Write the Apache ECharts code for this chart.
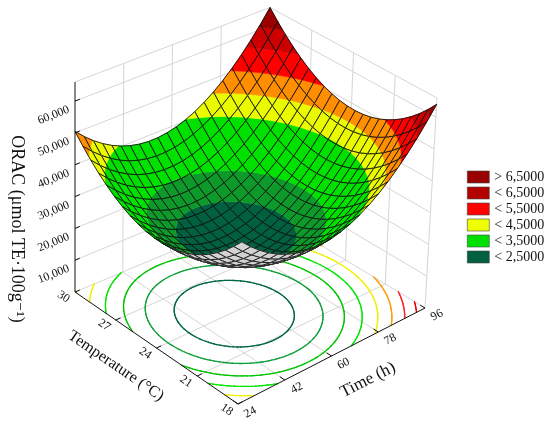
<!DOCTYPE html>
<html>
<head>
<meta charset="utf-8">
<script src="https://cdn.jsdelivr.net/npm/echarts@6/dist/echarts.min.js"></script>
<style>
    html, body { margin: 0; padding: 0; background: #fff; }
    #main { width: 550px; height: 428px; }
</style>
</head>
<body>
<div id="main"></div>
<script>
'use strict';

// ---- data ----
var timeTicks = [24, 42, 60, 78, 96];
var tempTicks = [18, 21, 24, 27, 30];
var oracTicks = [10000, 20000, 30000, 40000, 50000, 60000];
var timeRange = [24, 96];
var tempRange = [18, 30];
var oracRange = [0, 66000];

// fitted 2nd order surface, coded units x=(time-60)/36, y=(temp-24)/6
// order: b0, time, temp, time^2, temp^2, time*temp
var modelCoef = [21500, 7375, 625, 19375, 16750, 375];

// colour bands of the surface (upper limits) and their colours
var bandLimits = [25000, 30000, 35000, 40500, 45500, 50500, 56000, 61000];
var bandColors = ['#00603F', '#0E9A2A', '#00E100', '#00E100', '#EAFA00',
    '#FF8E00', '#FF0000', '#CC0000', '#9A0000'];
var contourLevels = [25000, 30000, 35000, 40000, 45000, 50000, 55000, 60000];
var contourColors = ['#00664A', '#12A03A', '#00C400', '#00E600', '#F0F000',
    '#FF9900', '#FF2020', '#E80000'];

var legendNames = ['> 6,5000', '< 6,5000', '< 5,5000', '< 4,5000', '< 3,5000', '< 2,5000'];
var legendColors = ['#990000', '#B30000', '#FF0000', '#F0FF00', '#00E000', '#006040'];

var SERIF = '"Liberation Serif", "Times New Roman", "DejaVu Serif", serif';

// ---- box on screen: corners A(time24,temp30) B(24,18) C(96,18) D(96,30) ----
var floorPts = [[75, 292], [238, 404], [425, 308], [266, 212]];
var topPts = [[75, 82], [243, 190], [437, 98], [270, 7.5]];
var N = 21;

function bil(q, u, v) {
    return [
        (1 - u) * (1 - v) * q[0][0] + (1 - u) * v * q[1][0] + u * v * q[2][0] + u * (1 - v) * q[3][0],
        (1 - u) * (1 - v) * q[0][1] + (1 - u) * v * q[1][1] + u * v * q[2][1] + u * (1 - v) * q[3][1]
    ];
}

function project(u, v, w) {
    var f = bil(floorPts, u, v);
    var t = bil(topPts, u, v);
    return [f[0] + w * (t[0] - f[0]), f[1] + w * (t[1] - f[1])];
}

function orac(u, v) {
    var x = 2 * u - 1, y = 1 - 2 * v, c = modelCoef;
    return c[0] + c[1] * x + c[2] * y + c[3] * x * x + c[4] * y * y + c[5] * x * y;
}

function uOf(t) { return (t - timeRange[0]) / (timeRange[1] - timeRange[0]); }
function vOf(T) { return (tempRange[1] - T) / (tempRange[1] - tempRange[0]); }
function wOf(z) { return (z - oracRange[0]) / (oracRange[1] - oracRange[0]); }

function fmt(n) {
    return String(n).replace(/\B(?=(\d{3})+(?!\d))/g, ',');
}

// ---- surface cells, far to near ----
var cells = [];
for (var i = 0; i < N; i++) {
    for (var j = 0; j < N; j++) {
        var uc = (i + 0.5) / N, vc = (j + 0.5) / N;
        var near = -0.832 * uc + vc + 0.827 * wOf(orac(uc, vc));
        cells.push([i, j, near]);
    }
}
cells.sort(function (a, b) { return a[2] - b[2]; });

function clip(poly, lim, above) {
    var out = [];
    for (var k = 0; k < poly.length; k++) {
        var a = poly[k], b = poly[(k + 1) % poly.length];
        var ina = above ? a.val >= lim : a.val < lim;
        var inb = above ? b.val >= lim : b.val < lim;
        if (ina) out.push(a);
        if (ina !== inb) {
            var t = (lim - a.val) / (b.val - a.val);
            out.push({
                p: [a.p[0] + t * (b.p[0] - a.p[0]), a.p[1] + t * (b.p[1] - a.p[1])],
                val: lim
            });
        }
    }
    return out;
}

function renderCell(params, api) {
    var i = api.value(0), j = api.value(1);
    var pts = [[i, j], [i + 1, j], [i + 1, j + 1], [i, j + 1]].map(function (g) {
        var u = g[0] / N, v = g[1] / N, val = orac(u, v);
        return {p: project(u, v, wOf(val)), val: val};
    });
    var area = 0;
    for (var k = 0; k < 4; k++) {
        var a = pts[k].p, b = pts[(k + 1) % 4].p;
        area += a[0] * b[1] - b[0] * a[1];
    }
    var children = [];
    var outline = pts.map(function (q) { return q.p; });
    if (area <= 0) {
        children.push({type: 'polygon', shape: {points: outline},
            style: {fill: '#D2D2D2', stroke: '#D2D2D2', lineWidth: 0.5}});
    } else {
        var edges = [-Infinity].concat(bandLimits, [Infinity]);
        for (var b = 0; b < bandColors.length; b++) {
            var poly = clip(clip(pts, edges[b], true), edges[b + 1], false);
            if (poly.length >= 3) {
                children.push({type: 'polygon',
                    shape: {points: poly.map(function (q) { return q.p; })},
                    style: {fill: bandColors[b], stroke: bandColors[b], lineWidth: 0.5}});
            }
        }
    }
    children.push({type: 'polygon', shape: {points: outline},
        style: {fill: 'none', stroke: '#111', lineWidth: 0.9}});
    return {type: 'group', children: children};
}

// ---- floor contours (marching squares) ----
function floorContours() {
    var M = 90, segs = [];
    contourLevels.forEach(function (L, li) {
        for (var i = 0; i < M; i++) {
            for (var j = 0; j < M; j++) {
                var c = [[i, j], [i + 1, j], [i + 1, j + 1], [i, j + 1]].map(function (g) {
                    return {u: g[0] / M, v: g[1] / M, val: orac(g[0] / M, g[1] / M)};
                });
                var cross = [];
                for (var k = 0; k < 4; k++) {
                    var a = c[k], b = c[(k + 1) % 4];
                    if ((a.val < L) !== (b.val < L)) {
                        var t = (L - a.val) / (b.val - a.val);
                        cross.push([a.u + t * (b.u - a.u), a.v + t * (b.v - a.v)]);
                    }
                }
                if (cross.length >= 2) segs.push([li, cross[0][0], cross[0][1], cross[1][0], cross[1][1]]);
                if (cross.length === 4) segs.push([li, cross[2][0], cross[2][1], cross[3][0], cross[3][1]]);
            }
        }
    });
    return segs;
}

// ---- box grid lines: [u1,v1,w1,u2,v2,w2] ----
var gridLines = [];
var axisLines = [];
var wLevels = oracTicks.map(wOf).concat([1]);
timeTicks.forEach(function (t) {
    var u = uOf(t);
    if (u > 0) gridLines.push([u, 0, 0, u, 1, 0]);
    if (u > 0) gridLines.push([u, 0, 0, u, 0, 1]);
    axisLines.push([u, 1, 0, u, 0.97, 0]);
});
tempTicks.forEach(function (T) {
    var v = vOf(T);
    if (v < 1) gridLines.push([0, v, 0, 1, v, 0]);
    gridLines.push([1, v, 0, 1, v, 1]);
    axisLines.push([0, v, 0, 0.025, v, 0]);
});
wLevels.forEach(function (w) {
    gridLines.push([0, 0, w, 1, 0, w]);
    gridLines.push([1, 0, w, 1, 1, w]);
});
oracTicks.forEach(function (z) {
    axisLines.push([0, 0, wOf(z), 0.025, 0, wOf(z)]);
});
axisLines.push([0, 0, 0, 0, 1, 0]);
axisLines.push([0, 1, 0, 1, 1, 0]);
axisLines.push([0, 0, 0, 0, 0, 1]);

function lineRenderer(color, width) {
    return function (params, api) {
        var a = project(api.value(0), api.value(1), api.value(2));
        var b = project(api.value(3), api.value(4), api.value(5));
        return {type: 'line', shape: {x1: a[0], y1: a[1], x2: b[0], y2: b[1]},
            style: {stroke: color, lineWidth: width}};
    };
}

// ---- tick labels: [kind, value] ----
var labels = [];
oracTicks.forEach(function (z) { labels.push([0, z]); });
tempTicks.forEach(function (T) { labels.push([1, T]); });
timeTicks.forEach(function (t) { labels.push([2, t]); });

function renderLabel(params, api) {
    var kind = api.value(0), val = api.value(1), p, rot, align = 'center';
    if (kind === 0) {
        p = project(0, 0, wOf(val));
        p = [p[0] - 6, p[1] + 8];
        rot = 0.38;
        align = 'right';
    } else if (kind === 1) {
        p = project(-0.06, vOf(val), 0);
        rot = -0.58;
    } else {
        p = project(uOf(val), 1.075, 0);
        rot = 0.48;
    }
    return {type: 'text', x: p[0], y: p[1], rotation: rot,
        style: {text: kind === 0 ? fmt(val) : String(val), fill: '#111',
            fontSize: 12, fontFamily: SERIF, align: align, verticalAlign: 'middle'}};
}

var chart = echarts.init(document.getElementById('main'));

var legendSeries = legendNames.map(function (name, k) {
    return {type: 'custom', name: name, coordinateSystem: 'none', data: [],
        itemStyle: {color: legendColors[k]}, renderItem: function () { return null; }};
});

var option = {
    backgroundColor: '#fff',
    animation: false,
    legend: {
        orient: 'vertical',
        left: 462,
        top: 165,
        icon: 'rect',
        itemWidth: 22,
        itemHeight: 12,
        itemGap: 2,
        selectedMode: false,
        data: legendNames,
        itemStyle: {borderColor: '#444', borderWidth: 0.6},
        textStyle: {fontFamily: SERIF, fontSize: 14, color: '#111', lineHeight: 14}
    },
    graphic: [
        {type: 'text', x: 17, y: 229, rotation: -Math.PI / 2,
            style: {text: 'ORAC (μmol TE·100g⁻¹)', fill: '#111', fontSize: 18,
                fontFamily: SERIF, align: 'center', verticalAlign: 'middle'}},
        {type: 'text', x: 116, y: 366, rotation: -0.6,
            style: {text: 'Temperature (°C)', fill: '#111', fontSize: 16,
                fontFamily: SERIF, align: 'center', verticalAlign: 'middle'}},
        {type: 'text', x: 368, y: 380, rotation: 0.47,
            style: {text: 'Time (h)', fill: '#111', fontSize: 17,
                fontFamily: SERIF, align: 'center', verticalAlign: 'middle'}}
    ],
    series: [
        {type: 'custom', name: 'grid', coordinateSystem: 'none', z: 1, silent: true,
            data: gridLines, renderItem: lineRenderer('#D6D6D6', 1)},
        {type: 'custom', name: 'contours', coordinateSystem: 'none', z: 2, silent: true,
            progressive: 0, data: floorContours(),
            renderItem: function (params, api) {
                var a = project(api.value(1), api.value(2), 0);
                var b = project(api.value(3), api.value(4), 0);
                return {type: 'line', shape: {x1: a[0], y1: a[1], x2: b[0], y2: b[1]},
                    style: {stroke: contourColors[api.value(0)], lineWidth: 1.3, lineCap: 'round'}};
            }},
        {type: 'custom', name: 'surface', coordinateSystem: 'none', z: 3, silent: true,
            progressive: 0, data: cells, renderItem: renderCell},
        {type: 'custom', name: 'axes', coordinateSystem: 'none', z: 4, silent: true,
            data: axisLines, renderItem: lineRenderer('#111', 1)},
        {type: 'custom', name: 'labels', coordinateSystem: 'none', z: 4, silent: true,
            data: labels, renderItem: renderLabel}
    ].concat(legendSeries)
};

chart.setOption(option);
</script>
</body>
</html>
